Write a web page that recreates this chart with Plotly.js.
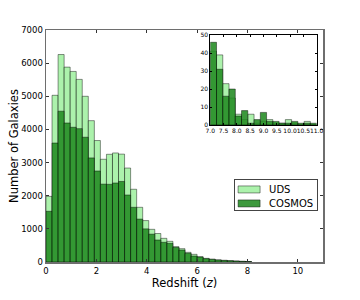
<!DOCTYPE html>
<html><head><meta charset="utf-8">
<script src="https://cdn.plot.ly/plotly-3.0.1.min.js"></script>
<style>html,body{margin:0;padding:0;background:#fff}#chart{width:360px;height:300px}</style>
</head><body><div id="chart"></div>
<script>
// ---- data ----
const binWidth = 0.24;           // main histogram bin width (redshift)
const udsCounts = [1980, 5030, 6260, 5880, 5750, 5510, 5000, 4265, 3665, 3100, 3250, 3290, 3255, 2835, 2195, 1650, 1250, 986, 860, 714, 624, 463, 402, 292, 231, 160, 110, 85, 65, 50, 40, 30, 20, 15];
const cosmosCounts = [1530, 3590, 4550, 4195, 4065, 4024, 3765, 3140, 2746, 2350, 2344, 2384, 2430, 2022, 1650, 1295, 1000, 840, 664, 594, 563, 440, 362, 262, 181, 150, 100, 80, 60, 48, 38, 28, 18, 12];
const insetStart = 7.0;
const insetBinWidth = 4 / 17;
const udsHighZ =    [41, 39, 23, 15, 6, 3, 6, 1, 2, 3, 1, 1, 3, 1, 0, 2, 0];
const cosmosHighZ = [46, 31, 16, 20, 5, 8, 1, 3, 7, 2, 2, 1, 1, 2, 1, 1, 1];
const seriesNames = ['UDS', 'COSMOS'];
const xTicks = [0, 2, 4, 6, 8, 10];
const yTicks = [0, 1000, 2000, 3000, 4000, 5000, 6000, 7000];
const insetXTicks = [7.0, 7.5, 8.0, 8.5, 9.0, 9.5, 10.0, 10.5, 11.0];
const insetXLabels = ['7.0', '7.5', '8.0', '8.5', '9.0', '9.5', '10.0', '10.5', '11.0'];
const insetYTicks = [0, 10, 20, 30, 40, 50];

// ---- build ----
const centers = (n, start, w) => Array.from({length: n}, (_, i) => start + (i + 0.5) * w);
const udsFill = 'rgba(144,238,144,0.75)';
const cosFill = 'rgba(34,139,34,0.88)';
const edge = {color: 'rgba(0,0,0,0.55)', width: 0.8};
const font = 'DejaVu Sans, sans-serif';

const traces = [
  {type: 'bar', name: seriesNames[0], x: centers(udsCounts.length, 0, binWidth), y: udsCounts, width: binWidth,
   marker: {color: udsFill, line: edge}, xaxis: 'x', yaxis: 'y'},
  {type: 'bar', name: seriesNames[1], x: centers(cosmosCounts.length, 0, binWidth), y: cosmosCounts, width: binWidth,
   marker: {color: cosFill, line: edge}, xaxis: 'x', yaxis: 'y'},
  {type: 'bar', name: seriesNames[0], x: centers(udsHighZ.length, insetStart, insetBinWidth), y: udsHighZ, width: insetBinWidth,
   marker: {color: udsFill, line: edge}, xaxis: 'x2', yaxis: 'y2', showlegend: false},
  {type: 'bar', name: seriesNames[1], x: centers(cosmosHighZ.length, insetStart, insetBinWidth), y: cosmosHighZ, width: insetBinWidth,
   marker: {color: cosFill, line: edge}, xaxis: 'x2', yaxis: 'y2', showlegend: false}
];

const frame = {showline: true, linecolor: '#6e6e6e', linewidth: 1.5, mirror: 'allticks', ticks: 'inside', ticklen: 3,
  tickcolor: '#333', zeroline: false, showgrid: false};

const layout = {
  width: 360, height: 300,
  margin: {l: 45.5, r: 37, t: 30, b: 38},
  paper_bgcolor: '#fff', plot_bgcolor: 'rgba(0,0,0,0)',
  barmode: 'overlay', bargap: 0,
  font: {family: font, color: '#000'},
  showlegend: true,
  legend: {x: 0.679, y: 0.358, xanchor: 'left', yanchor: 'top', bgcolor: '#fff', bordercolor: '#444', borderwidth: 1,
    font: {size: 10, family: font}, itemwidth: 30, tracegroupgap: 0, itemclick: false},
  xaxis: Object.assign({}, frame, {domain: [0, 1], range: [0, 11], tickvals: xTicks, ticktext: xTicks.map(String),
    tickfont: {size: 8.5}, anchor: 'y',
    title: {text: 'Redshift (<i>z</i>)', font: {size: 11.5}, standoff: 3}}),
  yaxis: Object.assign({}, frame, {domain: [0, 1], range: [0, 7000], tickvals: yTicks, ticktext: yTicks.map(String),
    tickfont: {size: 8.5}, anchor: 'x',
    title: {text: 'Number of Galaxies', font: {size: 11.5}, standoff: 0}}),
  xaxis2: {domain: [0.593, 0.977], range: [7, 11], anchor: 'y2', showline: true, linecolor: '#000', linewidth: 1, mirror: 'allticks',
    ticks: 'inside', ticklen: 2, tickcolor: '#000', tickvals: insetXTicks, ticktext: insetXLabels, tickfont: {size: 6},
    tickangle: 0, zeroline: false, showgrid: false},
  yaxis2: {domain: [0.5905, 0.978], range: [0, 50], anchor: 'x2', showline: true, linecolor: '#000', linewidth: 1, mirror: 'allticks',
    ticks: 'inside', ticklen: 2, tickcolor: '#000', tickvals: insetYTicks, ticktext: insetYTicks.map(String), tickfont: {size: 6},
    tickangle: 0, zeroline: false, showgrid: false},
  shapes: [{type: 'rect', xref: 'x2 domain', yref: 'y2 domain', x0: 0, x1: 1, y0: 0, y1: 1, fillcolor: '#fff', line: {width: 0}, layer: 'below'}]
};

Plotly.newPlot('chart', traces, layout, {displayModeBar: false, staticPlot: true}).then(gd => {
  gd.querySelectorAll('.legend .legendpoints path').forEach(p => p.setAttribute('d', 'M-17,-3.5H5V3.5H-17Z'));
  gd.querySelectorAll('.legend text.legendtext').forEach(t => t.setAttribute('x', 34));
  const items = gd.querySelectorAll('.legend .traces');
  const rowY = [10.5, 24.5];
  items.forEach((t, i) => t.setAttribute('transform', 'translate(1,' + rowY[i] + ')'));
  gd.querySelectorAll('.legend .bg').forEach(r => { r.setAttribute('height', 31); r.setAttribute('width', 83); });
  gd.querySelectorAll('.legend clipPath rect, defs .legendclip rect').forEach(r => r.setAttribute('height', 31));
});
</script></body></html>
